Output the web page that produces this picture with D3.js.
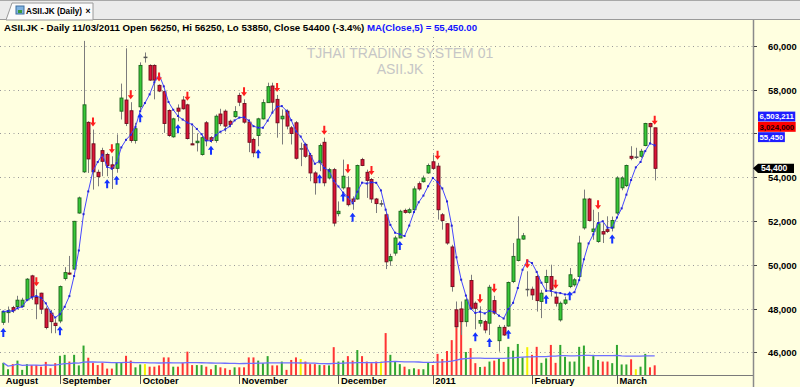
<!DOCTYPE html>
<html>
<head>
<meta charset="utf-8">
<script src="https://d3js.org/d3.v7.min.js"></script>
<style>
  body { margin: 0; background: #ffffe0; overflow: hidden; }
  text { font-family: "Liberation Sans", Arial, sans-serif; }
</style>
</head>
<body>
<svg id="chart" width="800" height="387"></svg>
<script>
// daily bars, ASII.JK, mid Aug 2010 .. 11 Mar 2011
const opens = [47370,47810,48040,48090,48090,48390,49490,48500,48700,47980,47790,47330,47430,49370,49620,49800,52360,54240,56500,55520,
  54220,55210,55030,54560,54400,57010,57520,57030,55670,57210,59480,59100,59100,58190,57900,57040,55840,57150,57520,57300,
  55520,55570,55030,56480,55800,55670,56880,57010,56550,56760,57730,57360,56510,55720,55900,56660,57400,58160,57550,56660,
  57010,56250,56480,55300,55490,54990,54190,54650,55590,53960,54340,52330,53510,53510,53000,53000,54800,54220,53890,53000,
  52790,52280,50180,50530,51220,52480,52390,52510,53700,53790,54190,54700,54500,52280,51870,50810,47940,47980,47400,49280,
  48240,47330,47400,47330,48360,46530,47140,47200,49230,50190,51170,48880,48880,49460,48320,49190,49460,48520,47480,48240,
  49000,49080,49460,51680,53000,51510,51060,51510,51600,51680,52360,53510,53610,54950,54920,54950,55440,56450,56250]
const highs = [47900,48090,48120,48580,48490,49390,49540,48880,48720,48090,47940,47510,49050,49890,50400,52000,53110,60220,56550,56170,
  54340,55340,55110,54950,55950,58270,59880,57420,56480,59240,59690,59150,59150,58230,57960,57090,56710,57320,57700,57350,
  56330,56000,55900,56560,55870,56860,57120,57090,56620,57240,57850,57550,56630,55800,56710,57550,58310,58310,57750,57090,
  57090,56330,56560,55570,55570,55030,54270,55530,55800,54420,54420,52890,54800,54040,53120,54570,54880,54340,53960,53050,
  52950,52430,50500,51320,52510,52560,52600,53580,53800,54070,54620,55030,54650,52360,51900,50910,48320,48320,48470,49540,
  48320,48100,47480,49080,48580,47250,47250,49230,50990,52210,51450,49700,49000,49540,48850,49770,50000,48760,48320,48540,
  49850,49390,51320,53430,53050,52510,52400,51900,52210,52200,54040,54040,54570,55410,55340,55290,56480,56480,56250]
const lows = [47250,47350,47800,48010,48080,48360,48390,47510,47750,47050,46870,46870,47330,49280,49540,49770,52330,54190,54190,53430,
  53580,54040,54040,53460,54200,56630,56330,55570,55530,57050,59230,58390,57550,57880,56020,55840,55800,56550,57080,55720,
  55460,55170,54980,55410,55570,55570,56330,56080,56330,56710,57240,56440,55140,54910,55410,56630,57400,56940,55800,55490,
  56180,55490,54800,54500,54880,53810,53200,54270,53580,53890,51750,52210,53430,52660,52510,52970,54500,53050,52820,52360,
  52650,49800,49950,50410,51220,52330,52330,52430,53380,53750,54150,54340,52060,51600,50910,48770,47100,46790,47170,47940,
  47050,47170,46870,46790,47710,46030,46750,47170,49160,50150,51140,48550,48390,47860,47560,48770,48550,48090,47400,48160,
  48930,49000,49390,51600,51980,51140,51000,50990,51450,51520,52280,53400,53550,54770,54830,54880,55410,55490,53850]
const closes = [47860,47900,47900,48380,48380,49340,48540,48210,47970,47130,47400,47220,49000,49640,49570,51980,53050,57300,54830,54240,
  54020,54720,54530,54400,55520,57610,56450,55670,56210,59100,59480,58430,58430,57930,56450,55900,56660,57010,57120,55760,
  55470,55640,55800,55670,55670,56780,56440,56330,56400,56990,57420,56510,55590,55110,56660,57400,58130,57420,56480,56780,
  56330,55990,54860,55300,54950,54190,53740,55440,53740,54340,51900,52440,54040,52740,52890,54530,54530,53850,53000,52790,
  52790,50130,50370,51220,52440,52390,52510,53460,53460,53960,54530,54400,52510,52020,50990,49000,47170,47400,48390,48010,
  48010,47450,47020,48970,47790,47140,46790,49190,50380,51170,51320,48880,48620,48360,48700,49460,48880,48240,48240,48390,
  49540,49310,50990,53000,52020,51630,51870,51400,51520,52020,53960,53960,54530,54860,54920,55180,56450,56300,54400]
// volume in millions of shares
const volumes = [3.8,1.8,3.4,4.5,1.6,3.4,3.1,3.1,2.6,4.1,2.1,3.7,6.0,6.3,4.2,6.3,3.0,9.2,5.4,3.8,
  3.1,3.8,2.0,2.0,3.8,3.8,6.0,4.5,2.4,3.3,3.4,2.6,2.6,3.0,5.5,5.5,2.6,2.6,3.8,7.3,
  3.1,3.1,3.1,2.6,1.8,3.1,2.4,2.1,1.6,2.4,2.4,2.4,5.5,5.5,4.5,3.7,5.9,3.0,3.0,4.2,
  1.6,4.7,5.5,5.0,4.2,3.4,3.4,3.1,3.1,3.0,8.7,4.2,4.5,5.9,4.5,7.8,5.9,4.2,3.7,4.2,
  4.2,13.1,6.3,4.2,3.4,2.6,1.8,2.1,1.8,1.8,3.8,3.1,6.6,5.0,7.5,10.9,16.7,20.3,7.2,8.4,
  3.7,2.5,2.6,4.2,4.5,5.3,4.1,8.8,7.6,9.7,5.5,8.7,6.3,8.8,3.8,5.2,9.4,3.8,9.4,5.7,
  4.2,4.2,8.8,9.2,2.6,6.3,4.7,4.2,4.2,3.7,9.4,3.3,3.3,4.9,1.8,2.6,6.6,2.4,3.024]

const buySignals = [0,12,22,24,29,37,44,54,67,72,74,84,100,103,107,115,120,129]
const sellSignals = [7,19,23,27,33,39,51,58,68,73,78,92,101,104,111,117,126,138]

const monthLabels = ["August","September","October","November","December","2011","February","March"]
const monthStart = [0,12,29,50,71,91,112,130]
const priceTicks = [46000,48000,50000,52000,54000,56000,58000,60000]

const svg = d3.select("#chart")
const plotRight = 753, plotBottom = 375
// stacked value tags on the right axis (vol MA, volume, price MA)
const tagTop = 111.6, tagStep = 10.3

const x = d3.scalePoint().domain(d3.range(closes.length)).range([3.3, 654.7])
const y = d3.scaleLinear().domain([46000, 60000]).range([352.3, 45.7])
const yVol = d3.scaleLinear().domain([0, 10]).range([plotBottom, plotBottom - 32])

const movingAvg = (arr, n) => arr.map((d, i) => d3.mean(arr.slice(Math.max(0, i - n + 1), i + 1)))
const ma5 = movingAvg(closes, 5)
const volMa = movingAvg(volumes, 50)
const fmt = d3.format(",")

function barColor(i) {
    if (closes[i] > opens[i]) return "up"
    if (closes[i] < opens[i]) return "down"
    return "flat"
}

function drawFrame() {
    svg.append("rect").attr("width", 800).attr("height", 387).attr("fill", "#ffffe0")
    // tab strip
    svg.append("rect").attr("width", 800).attr("height", 20).attr("fill", "#ebebeb")
    svg.append("line").attr("x1", 0).attr("x2", 800).attr("y1", 0.5).attr("y2", 0.5).attr("stroke", "#a8a8a8")
    svg.append("line").attr("x1", 0).attr("x2", 800).attr("y1", 19.5).attr("y2", 19.5).attr("stroke", "#9a9a9a")
    svg.append("path").attr("d", "M6,20 L12,3 L93,3 L93,20 Z").attr("fill", "#fbfbfb").attr("stroke", "#9a9a9a")
    svg.append("rect").attr("x", 16).attr("y", 6).attr("width", 8).attr("height", 8)
        .attr("fill", "#7fb2e0").attr("stroke", "#3f6f9f")
    svg.append("rect").attr("x", 18).attr("y", 10).attr("width", 4).attr("height", 3).attr("fill", "#3a9a3a")
    svg.append("text").attr("x", 26).attr("y", 13.5).attr("font-size", "8.2px").attr("font-weight", "bold")
        .text("ASII.JK (Daily)")
    svg.append("text").attr("x", 85.5).attr("y", 13.5).attr("font-size", "8.5px").attr("font-weight", "bold").text("×")
}

function drawGrid() {
    svg.selectAll(".grid").data(priceTicks).enter().append("line")
        .attr("class", "grid")
        .attr("x1", 0).attr("x2", plotRight)
        .attr("y1", d => Math.round(y(d)) + 0.5).attr("y2", d => Math.round(y(d)) + 0.5)
        .attr("stroke", "#9a9a9a").attr("stroke-dasharray", "1,3.5")
    // year separator
    const yx = Math.round(x(monthStart[5])) + 0.5
    svg.append("line").attr("x1", yx).attr("x2", yx).attr("y1", 37).attr("y2", plotBottom)
        .attr("stroke", "#9a9a9a").attr("stroke-dasharray", "1,3")
}

function drawVolume() {
    const volColor = { up: "#2fa52f", down: "#ff3434", flat: "#f2f200" }
    svg.selectAll(".vol").data(volumes).enter().append("rect")
        .attr("class", "vol")
        .attr("x", (d, i) => x(i) - 1)
        .attr("width", 2)
        .attr("y", d => yVol(d))
        .attr("height", d => plotBottom - yVol(d))
        .attr("fill", (d, i) => volColor[barColor(i)])
    const line = d3.line().x((d, i) => x(i)).y(d => yVol(d))
    svg.append("path").datum(volMa).attr("d", line)
        .attr("fill", "none").attr("stroke", "#6f6fff").attr("stroke-width", 1.3)
}

function drawCandles() {
    const fill = { up: "#38c838", down: "#dc1438", flat: "#555" }
    const edge = { up: "#1c641c", down: "#6e0c1c", flat: "#555" }
    const idx = d3.range(closes.length)
    svg.selectAll(".wick").data(idx).enter().append("line")
        .attr("class", "wick")
        .attr("x1", i => Math.round(x(i)) + 0.5).attr("x2", i => Math.round(x(i)) + 0.5)
        .attr("y1", i => y(highs[i])).attr("y2", i => y(lows[i]))
        .attr("stroke", "#7c7c7c").attr("stroke-width", 1)
    svg.selectAll(".body").data(idx).enter().append("rect")
        .attr("class", "body")
        .attr("x", i => Math.round(x(i)) - 1)
        .attr("width", 3)
        .attr("y", i => y(Math.max(opens[i], closes[i])))
        .attr("height", i => Math.max(0.6, Math.abs(y(opens[i]) - y(closes[i]))))
        .attr("fill", i => fill[barColor(i)])
        .attr("stroke", i => edge[barColor(i)])
        .attr("stroke-width", 0.9)
}

function drawMA() {
    const line = d3.line().x((d, i) => x(i)).y(d => y(d))
    svg.append("path").datum(ma5).attr("d", line)
        .attr("fill", "none").attr("stroke", "#4646ff").attr("stroke-width", 1)
    svg.selectAll(".madot").data(ma5).enter().append("rect")
        .attr("class", "madot")
        .attr("x", (d, i) => x(i) - 1).attr("y", d => y(d) - 1)
        .attr("width", 2).attr("height", 2)
        .attr("fill", "#2424d8")
}

function drawSignals() {
    const upArrow = "M0,-5 L3,-1 L1,-1 L1,4 L-1,4 L-1,-1 L-3,-1 Z"
    const downArrow = "M0,5 L3,1 L1,1 L1,-4 L-1,-4 L-1,1 L-3,1 Z"
    svg.selectAll(".buy").data(buySignals).enter().append("path")
        .attr("class", "buy").attr("d", upArrow)
        .attr("transform", i => `translate(${x(i)},${y(lows[i]) + 8})`)
        .attr("fill", "#1432ff")
    svg.selectAll(".sell").data(sellSignals).enter().append("path")
        .attr("class", "sell").attr("d", downArrow)
        .attr("transform", i => `translate(${x(i)},${y(highs[i]) - 8})`)
        .attr("fill", "#ff1e1e")
}

function drawAxes() {
    svg.append("line").attr("x1", 0).attr("x2", plotRight).attr("y1", plotBottom + 0.5).attr("y2", plotBottom + 0.5)
        .attr("stroke", "#7a7a7a")
    svg.append("line").attr("x1", plotRight + 0.5).attr("x2", plotRight + 0.5).attr("y1", 20).attr("y2", 387)
        .attr("stroke", "#8a8a8a").attr("stroke-width", 1.5)

    svg.selectAll(".ytick").data(priceTicks).enter().append("line")
        .attr("class", "ytick")
        .attr("x1", plotRight + 1).attr("x2", plotRight + 4)
        .attr("y1", d => Math.round(y(d)) + 0.5).attr("y2", d => Math.round(y(d)) + 0.5)
        .attr("stroke", "#444")
    // labels hidden behind the tag stack are not shown
    const tagBottom = tagTop + 3 * tagStep
    const shown = priceTicks.filter(d => y(d) < tagTop - 4 || y(d) > tagBottom + 4)
    svg.selectAll(".ylab").data(shown).enter().append("text")
        .attr("class", "ylab")
        .attr("x", 768).attr("y", d => y(d) + 4)
        .attr("font-size", "9.4px").attr("font-weight", "bold")
        .text(d => fmt(d))

    const months = monthStart.map((s, k) => ({ s: s, label: monthLabels[k] }))
    svg.selectAll(".xtick").data(months.slice(1)).enter().append("line")
        .attr("class", "xtick")
        .attr("x1", d => Math.round(x(d.s)) + 0.5).attr("x2", d => Math.round(x(d.s)) + 0.5)
        .attr("y1", plotBottom).attr("y2", plotBottom + 9)
        .attr("stroke", "#555")
    svg.selectAll(".xlab").data(months).enter().append("text")
        .attr("class", "xlab")
        .attr("x", d => x(d.s) + 2.5).attr("y", 384)
        .attr("font-size", "9.4px").attr("font-weight", "bold")
        .text(d => d.label)
}

function drawTags() {
    const last = closes.length - 1
    const stack = [
        { text: "6,503,211", fill: "#1e1eff", color: "#fff" },
        { text: fmt(Math.round(volumes[last] * 1e6)), fill: "#ff0000", color: "#1a0000" },
        { text: fmt(Math.round(ma5[last])), fill: "#1e1eff", color: "#fff" }
    ]
    stack.forEach((t, k) => {
        const top = tagTop + k * tagStep
        const g = svg.append("g")
        const txt = g.append("text").attr("x", 759.5).attr("y", top + 7.6)
            .attr("font-size", "7.8px").attr("font-weight", "bold").attr("fill", t.color).text(t.text)
        const w = txt.node().getComputedTextLength()
        g.insert("rect", "text").attr("x", 758).attr("y", top).attr("width", Math.min(w + 3, 42)).attr("height", tagStep - 0.4)
            .attr("fill", t.fill)
    })
    // last close pointer tag
    const cy = y(closes[last])
    const g = svg.append("g")
    g.append("path").attr("d", `M753,${cy} L758,${cy - 4.6} L794,${cy - 4.6} L794,${cy + 4.6} L758,${cy + 4.6} Z`)
        .attr("fill", "#000")
    g.append("text").attr("x", 761).attr("y", cy + 2.9)
        .attr("font-size", "8.6px").attr("font-weight", "bold").attr("fill", "#fff").text(fmt(closes[last]))
}

function drawTitle() {
    const last = closes.length - 1
    const pct = ((closes[last] - closes[last - 1]) / closes[last - 1] * 100).toFixed(1)
    const t = svg.append("text").attr("x", 4).attr("y", 30.5).attr("font-size", "9.7px").attr("font-weight", "bold")
    t.append("tspan").attr("fill", "#000")
        .text(`ASII.JK - Daily 11/03/2011 Open ${opens[last]}, Hi ${highs[last]}, Lo ${lows[last]}, Close ${closes[last]} (${pct}%)`)
    t.append("tspan").attr("fill", "#1414ff").text(` MA(Close,5) = ${d3.format(",.2f")(ma5[last])}`)

    svg.append("text").attr("x", 400).attr("y", 58).attr("text-anchor", "middle")
        .attr("font-size", "14px").attr("fill", "#c6c6c6").text("TJHAI TRADING SYSTEM 01")
    svg.append("text").attr("x", 400).attr("y", 73.5).attr("text-anchor", "middle")
        .attr("font-size", "14px").attr("fill", "#c6c6c6").text("ASII.JK")
}

drawFrame()
drawGrid()
drawTitle()
drawVolume()
drawCandles()
drawMA()
drawSignals()
drawAxes()
drawTags()
</script>
</body>
</html>
